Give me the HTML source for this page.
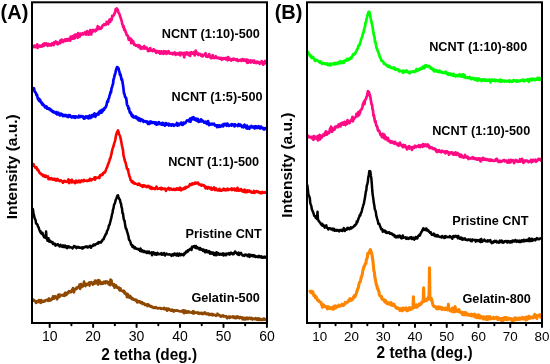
<!DOCTYPE html>
<html><head><meta charset="utf-8"><style>
html,body{margin:0;padding:0;background:#fff;}
body{width:550px;height:364px;overflow:hidden;position:relative;font-family:"Liberation Sans",sans-serif;}
svg{position:absolute;left:0;top:0;will-change:transform;}
svg text{font-family:"Liberation Sans",sans-serif;fill:#000;}
.b{font-weight:bold;}
</style></head><body>
<svg width="550" height="364" viewBox="0 0 550 364">
<polyline fill="none" stroke="#ff0a84" stroke-width="2.7" stroke-linejoin="round" points="32.70,45.34 33.20,47.01 33.70,47.14 34.20,45.56 34.70,45.96 35.20,45.83 35.70,46.99 36.20,46.32 36.70,47.13 37.20,44.39 37.70,47.88 38.20,46.09 38.70,46.83 39.20,45.90 39.70,45.58 40.20,46.39 40.70,46.70 41.20,45.56 41.70,45.56 42.20,46.38 42.70,44.68 43.20,43.94 43.70,45.89 44.20,44.70 44.70,43.32 45.20,44.42 45.70,44.72 46.20,43.88 46.70,43.49 47.20,45.04 47.70,45.88 48.20,44.60 48.70,43.98 49.20,45.10 49.70,45.38 50.20,44.21 50.70,45.02 51.20,45.47 51.70,44.03 52.20,43.28 52.70,44.44 53.20,44.22 53.70,45.04 54.20,42.34 54.70,42.90 55.20,42.58 55.70,41.48 56.20,43.38 56.70,43.69 57.20,42.17 57.70,44.37 58.20,43.61 58.70,43.24 59.20,42.83 59.70,43.29 60.20,40.58 60.70,42.57 61.20,42.39 61.70,39.56 62.20,41.76 62.70,40.92 63.20,41.92 63.70,40.37 64.20,40.68 64.70,40.92 65.20,39.36 65.70,40.88 66.20,39.90 66.70,40.41 67.20,39.07 67.70,40.74 68.20,40.01 68.70,38.92 69.20,39.66 69.70,40.19 70.20,40.60 70.70,36.53 71.20,39.16 71.70,38.47 72.20,37.62 72.70,36.37 73.20,38.77 73.70,35.67 74.20,37.57 74.70,38.21 75.20,34.66 75.70,35.93 76.20,34.55 76.70,36.12 77.20,37.37 77.70,37.75 78.20,33.19 78.70,34.39 79.20,35.70 79.70,36.56 80.20,35.10 80.70,33.65 81.20,34.74 81.70,34.28 82.20,33.97 82.70,33.27 83.20,34.46 83.70,34.27 84.20,33.70 84.70,33.43 85.20,32.06 85.70,32.82 86.20,34.58 86.70,32.77 87.20,31.14 87.70,34.13 88.20,33.01 88.70,34.66 89.20,32.15 89.70,31.40 90.20,30.13 90.70,33.18 91.20,34.48 91.70,30.44 92.20,30.49 92.70,31.76 93.20,29.95 93.70,30.41 94.20,30.11 94.70,30.51 95.20,31.30 95.70,29.81 96.20,30.57 96.70,28.76 97.20,29.34 97.70,26.23 98.20,26.75 98.70,29.07 99.20,27.22 99.70,28.32 100.20,28.04 100.70,28.70 101.20,27.88 101.70,27.88 102.20,26.35 102.70,25.43 103.20,25.15 103.70,25.17 104.20,24.17 104.70,24.56 105.20,24.82 105.70,24.94 106.20,23.98 106.70,21.85 107.20,23.62 107.70,23.55 108.20,23.99 108.70,22.65 109.20,20.39 109.70,19.44 110.20,21.82 110.70,19.68 111.20,20.24 111.70,19.91 112.20,15.85 112.70,16.53 113.20,15.88 113.70,15.22 114.20,14.39 114.70,13.14 115.20,12.19 115.70,9.06 116.20,9.31 116.70,8.37 117.20,9.72 117.70,9.66 118.20,11.73 118.70,12.86 119.20,13.37 119.70,14.92 120.20,16.46 120.70,17.66 121.20,19.67 121.70,20.99 122.20,23.72 122.70,24.93 123.20,27.07 123.70,26.18 124.20,29.93 124.70,29.17 125.20,30.36 125.70,32.18 126.20,33.01 126.70,35.21 127.20,35.31 127.70,35.67 128.20,36.70 128.70,39.87 129.20,39.04 129.70,38.22 130.20,40.11 130.70,38.83 131.20,43.11 131.70,39.83 132.20,42.53 132.70,43.02 133.20,41.23 133.70,43.55 134.20,44.68 134.70,44.46 135.20,44.57 135.70,45.63 136.20,45.09 136.70,45.57 137.20,45.36 137.70,46.43 138.20,45.05 138.70,47.11 139.20,46.00 139.70,45.63 140.20,47.35 140.70,48.92 141.20,48.37 141.70,47.05 142.20,48.47 142.70,47.47 143.20,47.97 143.70,48.35 144.20,46.09 144.70,48.75 145.20,47.68 145.70,48.15 146.20,47.52 146.70,47.62 147.20,48.32 147.70,50.20 148.20,51.15 148.70,49.62 149.20,50.84 149.70,49.63 150.20,48.14 150.70,50.27 151.20,50.67 151.70,49.92 152.20,50.73 152.70,51.09 153.20,49.80 153.70,49.30 154.20,50.59 154.70,50.68 155.20,50.62 155.70,51.98 156.20,52.77 156.70,50.80 157.20,51.94 157.70,52.25 158.20,52.11 158.70,52.51 159.20,51.23 159.70,52.39 160.20,53.68 160.70,52.61 161.20,51.36 161.70,52.59 162.20,53.29 162.70,52.53 163.20,51.73 163.70,53.77 164.20,51.23 164.70,52.94 165.20,52.53 165.70,51.50 166.20,53.81 166.70,53.07 167.20,51.73 167.70,53.42 168.20,52.52 168.70,51.22 169.20,52.38 169.70,53.30 170.20,53.68 170.70,53.28 171.20,53.21 171.70,53.63 172.20,53.03 172.70,54.34 173.20,53.43 173.70,53.60 174.20,53.87 174.70,52.45 175.20,52.83 175.70,54.95 176.20,53.94 176.70,53.46 177.20,54.12 177.70,53.45 178.20,54.21 178.70,53.42 179.20,54.32 179.70,52.67 180.20,55.30 180.70,53.64 181.20,52.67 181.70,53.90 182.20,53.76 182.70,54.24 183.20,53.07 183.70,54.46 184.20,57.37 184.70,52.95 185.20,54.41 185.70,53.82 186.20,54.24 186.70,52.36 187.20,52.87 187.70,54.23 188.20,53.68 188.70,55.11 189.20,52.87 189.70,53.55 190.20,55.92 190.70,52.41 191.20,52.16 191.70,52.89 192.20,52.86 192.70,53.69 193.20,53.06 193.70,52.27 194.20,53.21 194.70,55.48 195.20,54.26 195.70,50.56 196.20,53.01 196.70,52.36 197.20,53.76 197.70,53.06 198.20,55.03 198.70,54.15 199.20,54.24 199.70,53.84 200.20,53.95 200.70,54.63 201.20,55.80 201.70,55.37 202.20,54.74 202.70,56.29 203.20,55.43 203.70,55.28 204.20,54.73 204.70,55.00 205.20,55.01 205.70,53.18 206.20,56.59 206.70,56.26 207.20,55.66 207.70,56.85 208.20,56.41 208.70,56.45 209.20,54.09 209.70,56.13 210.20,56.90 210.70,57.93 211.20,58.23 211.70,57.97 212.20,55.86 212.70,55.07 213.20,57.52 213.70,57.15 214.20,58.03 214.70,57.19 215.20,57.57 215.70,56.20 216.20,57.93 216.70,57.25 217.20,58.00 217.70,58.17 218.20,57.76 218.70,58.19 219.20,57.99 219.70,58.70 220.20,58.55 220.70,57.74 221.20,57.77 221.70,59.77 222.20,58.30 222.70,59.27 223.20,58.83 223.70,58.10 224.20,58.01 224.70,58.78 225.20,58.96 225.70,59.31 226.20,57.83 226.70,58.44 227.20,58.90 227.70,60.34 228.20,57.16 228.70,59.49 229.20,58.74 229.70,59.57 230.20,58.85 230.70,59.57 231.20,60.57 231.70,59.61 232.20,59.70 232.70,59.67 233.20,58.79 233.70,59.86 234.20,59.28 234.70,58.82 235.20,59.48 235.70,59.37 236.20,60.21 236.70,59.61 237.20,59.28 237.70,60.93 238.20,60.61 238.70,60.89 239.20,60.42 239.70,59.91 240.20,59.73 240.70,59.91 241.20,60.95 241.70,60.35 242.20,59.14 242.70,60.36 243.20,59.33 243.70,60.67 244.20,59.65 244.70,59.68 245.20,60.86 245.70,60.78 246.20,59.58 246.70,61.59 247.20,62.79 247.70,59.94 248.20,62.65 248.70,60.71 249.20,60.94 249.70,61.25 250.20,60.31 250.70,62.57 251.20,61.99 251.70,61.05 252.20,61.49 252.70,60.55 253.20,61.54 253.70,62.62 254.20,60.55 254.70,61.61 255.20,62.13 255.70,62.89 256.20,63.17 256.70,61.77 257.20,61.59 257.70,62.58 258.20,61.98 258.70,62.07 259.20,63.24 259.70,63.79 260.20,62.71 260.70,62.41 261.20,63.08 261.70,61.18 262.20,62.73 262.70,61.95 263.20,64.75 263.70,63.46 264.20,63.02 264.70,62.78 265.20,60.95 265.70,63.55 266.20,64.30"/>
<polyline fill="none" stroke="#0000ff" stroke-width="2.7" stroke-linejoin="round" points="32.50,87.12 33.00,88.78 33.50,89.43 34.00,88.33 34.50,91.10 35.00,92.28 35.50,92.28 36.00,93.12 36.50,95.10 37.00,94.61 37.50,97.25 38.00,99.17 38.50,98.21 39.00,100.77 39.50,100.33 40.00,99.64 40.50,101.83 41.00,101.72 41.50,103.33 42.00,102.69 42.50,104.99 43.00,104.06 43.50,105.40 44.00,105.09 44.50,105.73 45.00,107.35 45.50,106.95 46.00,106.83 46.50,106.50 47.00,108.77 47.50,108.76 48.00,108.23 48.50,109.00 49.00,108.28 49.50,108.59 50.00,109.03 50.50,110.26 51.00,110.49 51.50,109.93 52.00,111.39 52.50,111.70 53.00,111.48 53.50,112.44 54.00,111.64 54.50,112.03 55.00,112.75 55.50,112.59 56.00,113.49 56.50,112.08 57.00,114.44 57.50,112.87 58.00,113.56 58.50,112.79 59.00,114.56 59.50,115.28 60.00,115.29 60.50,115.27 61.00,113.52 61.50,114.29 62.00,114.69 62.50,114.44 63.00,116.20 63.50,115.55 64.00,115.49 64.50,116.00 65.00,114.94 65.50,115.06 66.00,115.17 66.50,116.35 67.00,116.29 67.50,116.55 68.00,117.01 68.50,115.11 69.00,115.80 69.50,116.41 70.00,115.25 70.50,115.94 71.00,117.21 71.50,117.32 72.00,117.33 72.50,116.53 73.00,116.36 73.50,117.43 74.00,116.30 74.50,116.91 75.00,117.73 75.50,116.42 76.00,116.26 76.50,116.78 77.00,117.30 77.50,117.25 78.00,117.02 78.50,117.38 79.00,115.69 79.50,116.31 80.00,117.16 80.50,116.32 81.00,116.03 81.50,116.17 82.00,116.44 82.50,117.07 83.00,116.42 83.50,117.45 84.00,118.64 84.50,117.18 85.00,118.32 85.50,117.53 86.00,116.40 86.50,117.09 87.00,116.51 87.50,117.91 88.00,116.38 88.50,118.34 89.00,117.69 89.50,115.53 90.00,117.67 90.50,118.15 91.00,116.14 91.50,117.40 92.00,115.02 92.50,116.50 93.00,114.81 93.50,116.34 94.00,114.32 94.50,113.42 95.00,115.59 95.50,116.84 96.00,114.26 96.50,115.12 97.00,114.25 97.50,113.60 98.00,114.05 98.50,114.56 99.00,111.94 99.50,113.04 100.00,112.52 100.50,110.74 101.00,112.79 101.50,112.65 102.00,109.89 102.50,111.58 103.00,109.75 103.50,109.04 104.00,109.78 104.50,108.08 105.00,107.42 105.50,107.56 106.00,106.51 106.50,105.24 107.00,102.32 107.50,100.98 108.00,101.84 108.50,98.82 109.00,98.23 109.50,95.63 110.00,94.61 110.50,91.93 111.00,92.44 111.50,88.51 112.00,87.34 112.50,85.27 113.00,84.10 113.50,79.46 114.00,78.12 114.50,75.79 115.00,74.29 115.50,72.36 116.00,69.99 116.50,68.89 117.00,67.10 117.50,67.40 118.00,67.61 118.50,68.45 119.00,70.43 119.50,72.09 120.00,75.05 120.50,74.42 121.00,76.81 121.50,79.70 122.00,79.25 122.50,82.09 123.00,85.19 123.50,88.83 124.00,93.45 124.50,94.05 125.00,96.77 125.50,97.62 126.00,97.85 126.50,100.08 127.00,104.74 127.50,105.75 128.00,105.96 128.50,109.14 129.00,108.16 129.50,111.41 130.00,112.80 130.50,112.20 131.00,113.04 131.50,115.56 132.00,114.72 132.50,116.74 133.00,115.47 133.50,117.40 134.00,117.12 134.50,116.96 135.00,116.82 135.50,117.94 136.00,116.43 136.50,117.91 137.00,118.00 137.50,119.05 138.00,117.70 138.50,120.27 139.00,118.85 139.50,118.38 140.00,120.59 140.50,120.99 141.00,119.69 141.50,119.30 142.00,120.20 142.50,119.80 143.00,120.26 143.50,121.91 144.00,121.13 144.50,121.08 145.00,121.38 145.50,121.20 146.00,122.05 146.50,122.22 147.00,121.35 147.50,121.86 148.00,123.83 148.50,122.35 149.00,121.98 149.50,123.87 150.00,122.34 150.50,121.54 151.00,123.04 151.50,121.85 152.00,122.24 152.50,122.96 153.00,122.65 153.50,122.20 154.00,122.42 154.50,122.43 155.00,123.89 155.50,122.43 156.00,122.59 156.50,124.73 157.00,122.70 157.50,124.38 158.00,124.29 158.50,123.15 159.00,122.18 159.50,123.71 160.00,123.93 160.50,124.21 161.00,123.55 161.50,124.50 162.00,124.71 162.50,122.83 163.00,124.91 163.50,124.01 164.00,123.53 164.50,123.85 165.00,125.72 165.50,125.13 166.00,123.02 166.50,124.62 167.00,124.52 167.50,124.56 168.00,124.34 168.50,123.64 169.00,125.55 169.50,124.15 170.00,124.66 170.50,124.51 171.00,124.45 171.50,125.65 172.00,125.39 172.50,124.56 173.00,124.34 173.50,124.71 174.00,125.81 174.50,125.07 175.00,125.07 175.50,124.52 176.00,124.47 176.50,124.74 177.00,122.99 177.50,125.65 178.00,123.64 178.50,123.75 179.00,125.22 179.50,124.28 180.00,124.10 180.50,123.56 181.00,122.74 181.50,124.09 182.00,124.84 182.50,123.10 183.00,124.80 183.50,122.64 184.00,122.75 184.50,123.50 185.00,122.84 185.50,123.14 186.00,121.76 186.50,121.32 187.00,120.45 187.50,120.78 188.00,120.66 188.50,120.14 189.00,121.26 189.50,120.16 190.00,118.68 190.50,121.79 191.00,118.69 191.50,117.95 192.00,119.51 192.50,119.16 193.00,117.30 193.50,117.19 194.00,117.79 194.50,119.76 195.00,118.89 195.50,118.74 196.00,119.54 196.50,120.68 197.00,118.74 197.50,119.67 198.00,118.99 198.50,121.97 199.00,121.82 199.50,121.28 200.00,120.58 200.50,121.38 201.00,119.35 201.50,121.42 202.00,120.30 202.50,120.47 203.00,121.12 203.50,121.56 204.00,122.45 204.50,122.70 205.00,122.50 205.50,121.68 206.00,123.13 206.50,122.66 207.00,123.86 207.50,122.34 208.00,121.02 208.50,122.99 209.00,125.22 209.50,123.99 210.00,123.56 210.50,124.52 211.00,124.31 211.50,124.37 212.00,123.69 212.50,124.27 213.00,124.49 213.50,123.93 214.00,123.66 214.50,124.78 215.00,125.55 215.50,125.39 216.00,125.36 216.50,125.44 217.00,127.17 217.50,125.36 218.00,126.04 218.50,126.82 219.00,125.35 219.50,125.56 220.00,126.23 220.50,126.78 221.00,125.71 221.50,125.77 222.00,125.57 222.50,124.54 223.00,126.38 223.50,125.24 224.00,124.01 224.50,125.19 225.00,123.84 225.50,124.32 226.00,125.05 226.50,124.22 227.00,125.74 227.50,123.66 228.00,125.02 228.50,125.24 229.00,125.94 229.50,125.50 230.00,124.94 230.50,124.80 231.00,124.68 231.50,125.63 232.00,124.19 232.50,125.13 233.00,124.63 233.50,124.90 234.00,124.51 234.50,126.46 235.00,124.27 235.50,125.06 236.00,125.16 236.50,125.51 237.00,125.47 237.50,125.54 238.00,126.08 238.50,124.18 239.00,125.47 239.50,124.55 240.00,125.80 240.50,124.75 241.00,125.01 241.50,125.82 242.00,127.07 242.50,126.50 243.00,126.35 243.50,127.31 244.00,125.50 244.50,124.65 245.00,126.04 245.50,126.21 246.00,127.47 246.50,128.25 247.00,125.52 247.50,128.61 248.00,127.93 248.50,127.39 249.00,127.06 249.50,128.75 250.00,126.92 250.50,126.52 251.00,127.05 251.50,125.89 252.00,127.40 252.50,126.98 253.00,127.37 253.50,127.45 254.00,126.36 254.50,128.32 255.00,126.52 255.50,128.12 256.00,126.20 256.50,127.85 257.00,126.98 257.50,127.75 258.00,127.27 258.50,126.12 259.00,127.05 259.50,128.07 260.00,128.58 260.50,126.98 261.00,126.53 261.50,127.60 262.00,128.20 262.50,127.93 263.00,127.86 263.50,129.26 264.00,129.43 264.50,129.32 265.00,128.05 265.50,128.93 266.00,128.79 266.50,127.87"/>
<polyline fill="none" stroke="#ff0000" stroke-width="2.6" stroke-linejoin="round" points="32.50,163.78 33.00,163.91 33.50,164.18 34.00,166.05 34.50,166.26 35.00,166.94 35.50,167.79 36.00,168.10 36.50,167.42 37.00,168.60 37.50,170.12 38.00,169.57 38.50,170.70 39.00,171.58 39.50,172.90 40.00,173.43 40.50,173.73 41.00,173.49 41.50,174.60 42.00,174.72 42.50,174.62 43.00,175.93 43.50,175.67 44.00,175.15 44.50,176.73 45.00,176.00 45.50,176.81 46.00,175.68 46.50,176.90 47.00,176.53 47.50,176.74 48.00,176.36 48.50,179.21 49.00,177.92 49.50,178.38 50.00,179.14 50.50,178.52 51.00,179.11 51.50,178.06 52.00,179.23 52.50,178.99 53.00,179.73 53.50,179.67 54.00,178.79 54.50,178.62 55.00,179.30 55.50,180.56 56.00,180.47 56.50,180.57 57.00,179.10 57.50,178.76 58.00,180.19 58.50,180.47 59.00,180.38 59.50,181.09 60.00,180.83 60.50,180.24 61.00,180.51 61.50,181.24 62.00,181.26 62.50,181.21 63.00,182.78 63.50,181.17 64.00,181.46 64.50,180.77 65.00,181.22 65.50,181.83 66.00,181.89 66.50,181.45 67.00,181.83 67.50,181.62 68.00,180.37 68.50,179.47 69.00,183.10 69.50,182.14 70.00,181.56 70.50,180.47 71.00,180.77 71.50,182.48 72.00,179.79 72.50,181.39 73.00,182.16 73.50,181.69 74.00,182.09 74.50,181.51 75.00,183.14 75.50,180.90 76.00,180.66 76.50,181.69 77.00,182.41 77.50,181.41 78.00,182.09 78.50,181.03 79.00,180.56 79.50,182.21 80.00,182.28 80.50,182.22 81.00,180.89 81.50,180.38 82.00,180.32 82.50,180.88 83.00,181.36 83.50,181.26 84.00,179.95 84.50,180.97 85.00,180.81 85.50,180.82 86.00,180.72 86.50,180.58 87.00,181.07 87.50,180.73 88.00,180.75 88.50,180.08 89.00,180.69 89.50,180.23 90.00,178.79 90.50,180.32 91.00,179.66 91.50,180.26 92.00,179.37 92.50,179.24 93.00,179.27 93.50,178.96 94.00,178.50 94.50,177.45 95.00,179.62 95.50,177.21 96.00,177.81 96.50,178.24 97.00,177.84 97.50,177.72 98.00,177.60 98.50,177.65 99.00,176.74 99.50,178.14 100.00,175.28 100.50,175.76 101.00,175.02 101.50,174.52 102.00,174.66 102.50,175.00 103.00,173.13 103.50,172.63 104.00,172.99 104.50,172.21 105.00,172.40 105.50,171.00 106.00,169.63 106.50,168.32 107.00,167.59 107.50,166.13 108.00,164.05 108.50,163.57 109.00,161.99 109.50,160.33 110.00,158.45 110.50,158.03 111.00,155.60 111.50,153.93 112.00,151.06 112.50,148.93 113.00,147.60 113.50,146.20 114.00,144.09 114.50,142.39 115.00,141.14 115.50,138.45 116.00,135.45 116.50,134.04 117.00,132.12 117.50,131.38 118.00,130.33 118.50,131.87 119.00,133.90 119.50,135.02 120.00,135.99 120.50,138.02 121.00,140.54 121.50,142.97 122.00,145.72 122.50,147.83 123.00,150.20 123.50,155.30 124.00,157.16 124.50,159.43 125.00,161.33 125.50,162.33 126.00,164.57 126.50,166.62 127.00,168.72 127.50,169.65 128.00,169.14 128.50,172.53 129.00,174.37 129.50,176.34 130.00,177.32 130.50,179.86 131.00,180.48 131.50,181.55 132.00,182.10 132.50,181.06 133.00,182.90 133.50,183.08 134.00,182.66 134.50,183.65 135.00,183.78 135.50,183.42 136.00,183.84 136.50,183.93 137.00,184.42 137.50,184.16 138.00,184.95 138.50,183.52 139.00,184.73 139.50,183.97 140.00,184.89 140.50,185.67 141.00,185.48 141.50,185.51 142.00,185.75 142.50,186.84 143.00,185.21 143.50,186.61 144.00,185.16 144.50,185.94 145.00,186.46 145.50,185.90 146.00,186.70 146.50,187.14 147.00,185.99 147.50,186.82 148.00,186.72 148.50,185.80 149.00,187.03 149.50,186.72 150.00,188.20 150.50,186.85 151.00,188.60 151.50,187.23 152.00,188.92 152.50,188.09 153.00,188.11 153.50,188.41 154.00,188.54 154.50,188.94 155.00,189.22 155.50,187.94 156.00,187.42 156.50,186.56 157.00,188.12 157.50,188.93 158.00,188.75 158.50,188.65 159.00,188.42 159.50,188.30 160.00,188.59 160.50,189.09 161.00,187.75 161.50,189.42 162.00,188.05 162.50,188.94 163.00,188.68 163.50,188.91 164.00,188.51 164.50,188.49 165.00,189.13 165.50,188.62 166.00,190.95 166.50,189.11 167.00,188.96 167.50,189.04 168.00,188.70 168.50,187.80 169.00,189.23 169.50,189.60 170.00,188.42 170.50,189.40 171.00,188.61 171.50,189.37 172.00,189.63 172.50,189.71 173.00,189.68 173.50,188.93 174.00,189.96 174.50,189.08 175.00,189.59 175.50,189.80 176.00,189.12 176.50,188.46 177.00,189.67 177.50,188.52 178.00,188.64 178.50,188.48 179.00,189.71 179.50,189.03 180.00,187.63 180.50,189.53 181.00,190.34 181.50,190.11 182.00,188.51 182.50,188.86 183.00,189.06 183.50,189.19 184.00,188.50 184.50,187.61 185.00,188.64 185.50,188.36 186.00,186.89 186.50,187.25 187.00,187.36 187.50,186.83 188.00,186.80 188.50,186.61 189.00,186.08 189.50,185.30 190.00,184.10 190.50,184.95 191.00,185.06 191.50,185.07 192.00,183.50 192.50,183.37 193.00,184.28 193.50,184.23 194.00,183.48 194.50,183.69 195.00,182.71 195.50,183.57 196.00,182.66 196.50,183.20 197.00,183.38 197.50,183.37 198.00,182.55 198.50,183.62 199.00,184.57 199.50,184.48 200.00,184.41 200.50,185.08 201.00,185.39 201.50,185.64 202.00,184.72 202.50,185.44 203.00,185.43 203.50,185.33 204.00,185.20 204.50,186.38 205.00,186.13 205.50,188.31 206.00,187.03 206.50,187.10 207.00,187.12 207.50,188.73 208.00,187.02 208.50,187.65 209.00,187.39 209.50,187.95 210.00,188.15 210.50,189.04 211.00,187.54 211.50,188.58 212.00,189.76 212.50,188.50 213.00,188.83 213.50,188.49 214.00,187.47 214.50,189.21 215.00,190.15 215.50,189.17 216.00,188.36 216.50,189.80 217.00,189.74 217.50,190.39 218.00,190.39 218.50,189.67 219.00,190.16 219.50,188.77 220.00,190.71 220.50,190.14 221.00,190.75 221.50,190.76 222.00,189.90 222.50,189.99 223.00,189.51 223.50,188.72 224.00,189.94 224.50,190.08 225.00,189.23 225.50,190.35 226.00,189.90 226.50,190.08 227.00,189.24 227.50,188.56 228.00,190.19 228.50,190.07 229.00,189.59 229.50,189.37 230.00,189.46 230.50,189.54 231.00,189.28 231.50,188.30 232.00,190.11 232.50,188.62 233.00,189.37 233.50,189.39 234.00,189.76 234.50,188.56 235.00,190.41 235.50,190.08 236.00,190.19 236.50,190.55 237.00,189.25 237.50,187.78 238.00,190.08 238.50,190.77 239.00,190.72 239.50,189.67 240.00,190.01 240.50,190.33 241.00,189.05 241.50,189.88 242.00,189.98 242.50,191.51 243.00,190.15 243.50,191.68 244.00,190.74 244.50,189.71 245.00,192.30 245.50,190.28 246.00,191.36 246.50,192.11 247.00,190.70 247.50,190.30 248.00,191.82 248.50,191.23 249.00,190.45 249.50,190.60 250.00,191.11 250.50,192.06 251.00,191.33 251.50,192.03 252.00,192.76 252.50,192.59 253.00,192.78 253.50,192.71 254.00,190.92 254.50,192.81 255.00,192.27 255.50,192.01 256.00,191.42 256.50,191.13 257.00,191.47 257.50,192.20 258.00,191.48 258.50,191.75 259.00,191.91 259.50,192.78 260.00,192.19 260.50,192.33 261.00,193.32 261.50,192.29 262.00,192.93 262.50,191.89 263.00,192.83 263.50,192.73 264.00,192.81 264.50,192.43 265.00,192.10 265.50,192.62 266.00,192.55 266.50,193.57"/>
<polyline fill="none" stroke="#000000" stroke-width="2.5" stroke-linejoin="round" points="32.50,208.14 33.00,209.62 33.50,213.63 34.00,215.23 34.50,217.87 35.00,218.98 35.50,219.90 36.00,223.10 36.50,224.03 37.00,224.08 37.50,224.73 38.00,226.70 38.50,227.20 39.00,228.66 39.50,230.20 40.00,231.62 40.50,231.12 41.00,233.07 41.50,233.61 42.00,233.12 42.50,232.82 43.00,235.12 43.50,235.44 44.00,237.15 44.50,236.99 45.00,236.99 45.50,238.07 45.65,237.48 46.10,231.50 46.55,237.47 47.00,238.62 47.50,240.72 48.00,240.35 48.50,238.16 49.00,241.56 49.50,240.23 50.00,241.67 50.50,241.07 51.00,241.88 51.50,242.47 52.00,242.48 52.50,241.99 53.00,243.96 53.50,243.56 54.00,243.57 54.50,244.35 55.00,243.73 55.50,245.65 56.00,244.67 56.50,244.93 57.00,245.06 57.50,244.31 58.00,244.25 58.50,245.34 59.00,245.54 59.50,246.34 60.00,245.82 60.50,244.84 61.00,246.08 61.50,246.39 62.00,246.63 62.50,246.28 63.00,245.31 63.50,247.09 64.00,245.88 64.50,246.91 65.00,245.51 65.50,247.24 66.00,246.24 66.50,247.62 67.00,248.15 67.50,247.77 68.00,246.17 68.50,246.36 69.00,246.44 69.50,247.54 70.00,247.35 70.50,247.24 71.00,247.36 71.50,247.58 72.00,247.65 72.50,248.39 73.00,247.19 73.50,247.40 74.00,245.98 74.50,246.38 75.00,246.84 75.50,246.52 76.00,247.52 76.50,248.11 77.00,247.09 77.50,247.06 78.00,247.05 78.50,247.50 79.00,247.02 79.50,247.70 80.00,247.62 80.50,247.65 81.00,247.94 81.50,247.43 82.00,247.50 82.50,248.63 83.00,247.37 83.50,247.96 84.00,247.42 84.50,247.01 85.00,246.94 85.50,246.59 86.00,247.07 86.50,246.52 87.00,246.53 87.50,247.56 88.00,246.51 88.50,247.29 89.00,246.57 89.50,246.87 90.00,245.72 90.50,246.12 91.00,247.74 91.50,246.34 92.00,246.32 92.50,245.65 93.00,245.94 93.50,244.38 94.00,244.44 94.50,245.18 95.00,245.29 95.50,244.26 96.00,244.24 96.50,243.94 97.00,243.88 97.50,242.99 98.00,242.65 98.50,243.43 99.00,242.10 99.50,242.45 100.00,242.46 100.50,241.93 101.00,242.52 101.50,241.57 102.00,241.21 102.50,239.86 103.00,239.28 103.50,239.35 104.00,238.29 104.50,236.65 105.00,236.10 105.50,234.81 106.00,233.62 106.50,233.49 107.00,230.96 107.50,230.37 108.00,229.15 108.50,227.37 109.00,225.28 109.50,224.98 110.00,222.96 110.50,221.00 111.00,219.12 111.50,217.14 112.00,214.42 112.50,213.11 113.00,209.40 113.50,208.29 114.00,205.07 114.50,203.98 115.00,202.97 115.50,200.70 116.00,199.13 116.50,198.41 117.00,196.49 117.50,195.46 118.00,195.37 118.50,197.48 119.00,198.19 119.50,199.52 120.00,199.83 120.50,202.87 121.00,203.53 121.50,206.97 122.00,208.45 122.50,213.31 123.00,213.33 123.50,217.89 124.00,220.02 124.50,220.53 125.00,223.84 125.50,227.15 126.00,228.94 126.50,228.89 127.00,231.50 127.50,232.78 128.00,234.60 128.50,236.54 129.00,239.85 129.50,240.05 130.00,241.11 130.50,242.34 131.00,244.25 131.50,245.28 132.00,244.91 132.50,247.03 133.00,245.62 133.50,246.50 134.00,247.28 134.50,248.40 135.00,247.18 135.50,247.81 136.00,248.71 136.50,248.43 137.00,248.98 137.50,249.13 138.00,248.84 138.50,249.37 139.00,249.86 139.50,249.48 140.00,250.87 140.50,248.59 141.00,249.55 141.50,251.41 142.00,250.90 142.50,250.35 143.00,251.25 143.50,251.92 144.00,250.94 144.50,252.03 145.00,251.57 145.50,251.72 146.00,251.89 146.50,252.85 147.00,251.43 147.50,252.09 148.00,252.93 148.50,251.74 149.00,251.60 149.50,253.20 150.00,252.90 150.50,252.88 151.00,253.16 151.50,252.44 152.00,255.21 152.50,252.53 153.00,252.96 153.50,252.31 154.00,253.06 154.50,254.45 155.00,253.44 155.50,253.88 156.00,253.17 156.50,254.82 157.00,253.72 157.50,252.79 158.00,254.25 158.50,253.51 159.00,254.25 159.50,253.98 160.00,254.13 160.50,254.09 161.00,253.42 161.50,253.05 162.00,254.84 162.50,254.11 163.00,254.47 163.50,254.00 164.00,252.97 164.50,253.55 165.00,255.48 165.50,254.00 166.00,254.33 166.50,253.60 167.00,254.28 167.50,254.39 168.00,254.50 168.50,254.60 169.00,254.21 169.50,254.25 170.00,254.64 170.50,254.88 171.00,254.55 171.50,255.87 172.00,254.80 172.50,254.77 173.00,254.19 173.50,255.37 174.00,253.93 174.50,253.51 175.00,253.95 175.50,255.06 176.00,253.82 176.50,255.51 177.00,254.58 177.50,253.52 178.00,254.41 178.50,255.80 179.00,253.93 179.50,253.59 180.00,254.83 180.50,255.34 181.00,255.08 181.50,254.08 182.00,254.38 182.50,254.39 183.00,254.88 183.50,255.37 184.00,253.55 184.50,254.25 185.00,252.79 185.50,253.12 186.00,251.73 186.50,251.51 187.00,251.95 187.50,250.63 188.00,251.46 188.50,250.04 189.00,250.06 189.50,249.55 190.00,248.93 190.50,248.80 191.00,249.02 191.50,250.03 192.00,246.68 192.50,247.46 193.00,246.92 193.50,246.21 194.00,246.90 194.50,246.03 195.00,246.78 195.50,248.05 196.00,246.02 196.50,247.79 197.00,248.09 197.50,247.25 198.00,248.44 198.50,248.48 199.00,248.17 199.50,249.47 200.00,247.97 200.50,249.61 201.00,249.28 201.50,248.98 202.00,249.85 202.50,249.95 203.00,250.95 203.50,249.50 204.00,250.57 204.50,250.54 205.00,252.12 205.50,250.40 206.00,252.10 206.50,250.31 207.00,251.98 207.50,251.84 208.00,252.38 208.50,251.80 209.00,251.08 209.50,251.50 210.00,253.63 210.50,252.98 211.00,252.34 211.50,253.67 212.00,252.62 212.50,252.72 213.00,252.49 213.50,254.25 214.00,254.89 214.50,252.93 215.00,253.88 215.50,254.44 216.00,255.30 216.50,252.21 217.00,254.04 217.50,254.44 218.00,253.00 218.50,254.37 219.00,254.28 219.50,254.69 220.00,253.82 220.50,254.55 221.00,253.87 221.50,254.74 222.00,254.44 222.50,254.07 223.00,253.34 223.50,255.46 224.00,255.06 224.50,254.87 225.00,253.75 225.50,253.92 226.00,255.29 226.50,254.59 227.00,253.43 227.50,254.01 228.00,254.03 228.50,253.75 229.00,253.18 229.50,254.66 230.00,254.13 230.50,253.52 231.00,252.50 231.50,253.14 232.00,253.50 232.50,254.08 233.00,253.19 233.50,254.22 234.00,253.54 234.50,252.92 235.00,251.49 235.50,252.62 236.00,252.40 236.50,253.34 237.00,253.68 237.50,254.42 238.00,253.44 238.50,252.63 239.00,255.09 239.50,253.67 240.00,253.33 240.50,253.44 241.00,252.84 241.50,254.42 242.00,254.44 242.50,255.50 243.00,255.37 243.50,255.40 244.00,255.83 244.50,254.87 245.00,254.86 245.50,255.24 246.00,254.49 246.50,255.36 247.00,255.31 247.50,256.08 248.00,255.68 248.50,254.42 249.00,255.83 249.50,256.85 250.00,254.62 250.50,255.40 251.00,255.98 251.50,255.07 252.00,255.64 252.50,256.09 253.00,255.16 253.50,256.32 254.00,256.43 254.50,255.29 255.00,256.24 255.50,257.03 256.00,256.20 256.50,256.68 257.00,256.87 257.50,256.31 258.00,257.20 258.50,256.82 259.00,255.89 259.50,256.98 260.00,257.24 260.50,257.23 261.00,256.24 261.50,257.04 262.00,257.70 262.50,256.93 263.00,257.62 263.50,257.72 264.00,256.80 264.50,257.30 265.00,256.65 265.50,257.61 266.00,256.81 266.50,256.50"/>
<polyline fill="none" stroke="#8f4800" stroke-width="2.6" stroke-linejoin="round" points="32.50,300.46 33.00,300.69 33.50,299.67 34.00,300.20 34.50,301.07 35.00,301.26 35.50,301.05 36.00,302.90 36.50,301.87 37.00,301.06 37.50,301.67 38.00,302.14 38.50,301.48 39.00,300.02 39.50,301.33 40.00,301.32 40.50,302.79 41.00,300.00 41.50,302.37 42.00,301.12 42.50,301.82 43.00,300.86 43.50,301.09 44.00,301.65 44.50,300.77 45.00,301.35 45.50,300.39 46.00,300.02 46.50,300.04 47.00,299.72 47.50,299.89 48.00,300.88 48.50,298.86 49.00,298.36 49.50,299.48 50.00,300.65 50.50,300.04 51.00,300.12 51.50,299.93 52.00,298.24 52.50,298.76 53.00,296.39 53.50,297.86 54.00,298.67 54.50,296.75 55.00,296.15 55.50,296.59 56.00,297.65 56.50,298.26 57.00,299.28 57.50,298.13 58.00,295.45 58.50,294.56 59.00,296.49 59.50,297.09 60.00,294.56 60.50,295.32 61.00,295.18 61.50,295.41 62.00,295.01 62.50,295.43 63.00,295.72 63.50,294.59 64.00,294.99 64.50,295.93 65.00,292.85 65.50,292.57 66.00,293.81 66.50,294.87 67.00,292.98 67.50,293.65 68.00,292.01 68.50,292.99 69.00,291.19 69.50,292.26 70.00,291.72 70.50,291.47 71.00,292.25 71.50,291.68 72.00,289.67 72.50,291.00 73.00,287.96 73.50,290.62 74.00,292.31 74.50,289.64 75.00,289.36 75.50,288.61 76.00,289.21 76.50,287.50 77.00,288.53 77.50,287.20 78.00,286.78 78.50,287.19 79.00,286.77 79.50,284.59 80.00,288.93 80.50,286.46 81.00,284.09 81.50,287.27 82.00,285.79 82.50,285.93 83.00,286.40 83.50,284.30 84.00,281.63 84.50,284.98 85.00,285.26 85.50,286.05 86.00,283.70 86.50,284.15 87.00,284.83 87.50,283.78 88.00,283.71 88.50,284.21 89.00,282.49 89.50,285.67 90.00,282.32 90.50,283.42 91.00,282.82 91.50,282.21 92.00,283.70 92.50,284.22 93.00,284.70 93.50,283.48 94.00,282.05 94.50,283.72 95.00,280.65 95.50,282.59 96.00,283.19 96.50,283.23 97.00,280.94 97.50,280.46 98.00,284.61 98.50,281.72 99.00,280.21 99.50,280.73 100.00,282.38 100.50,283.91 101.00,282.34 101.50,283.93 102.00,282.63 102.50,282.96 103.00,283.65 103.50,281.86 104.00,282.77 104.50,281.88 105.00,281.58 105.50,283.31 106.00,281.40 106.50,282.62 107.00,281.52 107.50,282.48 108.00,281.96 108.50,284.13 109.00,282.87 109.50,283.00 110.00,285.22 110.50,279.56 111.00,282.12 111.50,280.34 112.00,284.11 112.50,284.97 113.00,285.52 113.50,285.34 114.00,284.22 114.50,287.72 115.00,286.26 115.50,285.91 116.00,285.22 116.50,287.38 117.00,286.66 117.50,287.07 118.00,288.17 118.50,288.53 119.00,287.72 119.50,290.38 120.00,288.25 120.50,288.51 121.00,290.41 121.50,290.58 122.00,290.90 122.50,290.78 123.00,291.62 123.50,291.39 124.00,290.70 124.50,293.44 125.00,292.13 125.50,293.29 126.00,294.60 126.50,294.34 127.00,297.24 127.50,293.87 128.00,294.86 128.50,295.98 129.00,297.45 129.50,296.41 130.00,295.76 130.50,298.27 131.00,296.90 131.50,297.83 132.00,299.03 132.50,298.12 133.00,298.61 133.50,299.64 134.00,299.41 134.50,300.07 135.00,299.43 135.50,300.32 136.00,299.87 136.50,299.78 137.00,302.37 137.50,301.67 138.00,302.20 138.50,301.11 139.00,301.96 139.50,302.03 140.00,301.42 140.50,302.92 141.00,302.27 141.50,302.80 142.00,302.14 142.50,303.94 143.00,303.98 143.50,303.94 144.00,303.32 144.50,303.74 145.00,305.00 145.50,304.27 146.00,304.78 146.50,304.89 147.00,304.34 147.50,306.06 148.00,304.25 148.50,305.73 149.00,305.78 149.50,305.16 150.00,306.43 150.50,306.69 151.00,306.56 151.50,306.18 152.00,306.99 152.50,307.45 153.00,307.04 153.50,307.95 154.00,307.55 154.50,307.58 155.00,308.01 155.50,306.96 156.00,307.14 156.50,307.80 157.00,307.91 157.50,308.55 158.00,308.46 158.50,308.03 159.00,308.15 159.50,307.98 160.00,308.04 160.50,308.09 161.00,308.93 161.50,308.27 162.00,308.42 162.50,308.80 163.00,308.52 163.50,308.76 164.00,307.78 164.50,309.27 165.00,308.98 165.50,309.33 166.00,309.51 166.50,308.36 167.00,310.77 167.50,309.60 168.00,309.67 168.50,308.65 169.00,310.03 169.50,309.97 170.00,309.61 170.50,309.99 171.00,310.62 171.50,309.79 172.00,309.54 172.50,310.83 173.00,310.31 173.50,310.13 174.00,311.56 174.50,310.45 175.00,310.34 175.50,310.64 176.00,310.34 176.50,310.75 177.00,310.78 177.50,310.39 178.00,310.67 178.50,311.04 179.00,311.13 179.50,311.30 180.00,311.46 180.50,311.22 181.00,311.42 181.50,310.97 182.00,311.09 182.50,311.86 183.00,310.26 183.50,311.61 184.00,313.20 184.50,310.51 185.00,312.41 185.50,310.68 186.00,311.91 186.50,312.67 187.00,312.66 187.50,311.40 188.00,311.25 188.50,311.24 189.00,312.49 189.50,311.94 190.00,312.23 190.50,312.43 191.00,312.58 191.50,312.72 192.00,312.56 192.50,311.67 193.00,313.41 193.50,311.16 194.00,313.40 194.50,312.43 195.00,312.69 195.50,312.55 196.00,312.67 196.50,312.90 197.00,312.79 197.50,312.37 198.00,313.48 198.50,312.72 199.00,313.82 199.50,313.04 200.00,312.78 200.50,313.45 201.00,313.74 201.50,312.79 202.00,313.19 202.50,314.18 203.00,312.90 203.50,313.03 204.00,313.64 204.50,312.94 205.00,312.30 205.50,312.80 206.00,313.98 206.50,314.19 207.00,314.22 207.50,314.18 208.00,313.36 208.50,314.48 209.00,314.82 209.50,313.88 210.00,314.85 210.50,314.21 211.00,314.59 211.50,314.76 212.00,313.81 212.50,315.50 213.00,314.29 213.50,314.76 214.00,314.60 214.50,315.18 215.00,315.21 215.50,315.04 216.00,315.86 216.50,315.28 217.00,314.96 217.50,313.65 218.00,315.13 218.50,315.19 219.00,314.93 219.50,315.00 220.00,315.88 220.50,316.21 221.00,316.76 221.50,316.44 222.00,315.51 222.50,316.13 223.00,315.32 223.50,316.56 224.00,316.44 224.50,315.98 225.00,316.32 225.50,316.30 226.00,316.13 226.50,317.25 227.00,318.28 227.50,317.06 228.00,317.22 228.50,316.77 229.00,316.52 229.50,317.95 230.00,316.58 230.50,317.03 231.00,316.79 231.50,317.22 232.00,316.91 232.50,317.32 233.00,316.35 233.50,317.04 234.00,317.90 234.50,316.64 235.00,316.90 235.50,318.08 236.00,317.60 236.50,318.03 237.00,316.26 237.50,317.63 238.00,316.90 238.50,316.89 239.00,317.93 239.50,318.41 240.00,316.99 240.50,317.26 241.00,317.60 241.50,317.90 242.00,317.28 242.50,319.31 243.00,318.43 243.50,317.95 244.00,317.90 244.50,319.50 245.00,319.48 245.50,318.01 246.00,318.49 246.50,319.01 247.00,317.69 247.50,318.03 248.00,319.12 248.50,318.01 249.00,318.18 249.50,317.69 250.00,318.04 250.50,318.87 251.00,318.07 251.50,317.84 252.00,318.26 252.50,319.64 253.00,318.83 253.50,318.48 254.00,318.95 254.50,319.17 255.00,319.06 255.50,318.05 256.00,319.27 256.50,319.04 257.00,319.66 257.50,318.47 258.00,319.82 258.50,318.98 259.00,318.32 259.50,320.02 260.00,319.00 260.50,319.51 261.00,319.22 261.50,319.93 262.00,319.95 262.50,319.97 263.00,319.77 263.50,318.50 264.00,318.50 264.50,319.59 265.00,319.02 265.50,319.89 266.00,319.81 266.50,319.02"/>
<polyline fill="none" stroke="#00ff00" stroke-width="2.7" stroke-linejoin="round" points="307.50,51.37 308.00,52.01 308.50,52.84 309.00,53.90 309.50,55.06 310.00,56.05 310.50,55.21 311.00,56.00 311.50,57.80 312.00,57.89 312.50,57.96 313.00,56.82 313.50,58.02 314.00,59.08 314.50,58.96 315.00,60.83 315.50,59.97 316.00,60.37 316.50,59.80 317.00,60.10 317.50,60.58 318.00,60.86 318.50,61.34 319.00,61.94 319.50,62.08 320.00,62.75 320.50,61.52 321.00,62.65 321.50,62.84 322.00,63.83 322.50,62.91 323.00,63.41 323.50,62.89 324.00,63.80 324.50,63.94 325.00,63.45 325.50,63.67 326.00,64.00 326.50,64.43 327.00,63.40 327.50,64.63 328.00,63.88 328.50,65.21 329.00,64.92 329.50,63.77 330.00,63.60 330.50,65.43 331.00,64.29 331.50,64.21 332.00,63.58 332.50,63.72 333.00,64.25 333.50,64.10 334.00,63.19 334.50,64.41 335.00,63.80 335.50,63.00 336.00,64.13 336.50,63.37 337.00,63.90 337.50,63.03 338.00,63.52 338.50,62.24 339.00,63.35 339.50,62.10 340.00,63.00 340.50,61.23 341.00,62.58 341.50,62.90 342.00,62.60 342.50,62.87 343.00,61.32 343.50,62.75 344.00,62.59 344.50,60.71 345.00,60.76 345.50,60.69 346.00,60.80 346.50,60.70 347.00,58.85 347.50,60.44 348.00,59.65 348.50,58.89 349.00,59.77 349.50,58.64 350.00,59.15 350.50,58.36 351.00,57.37 351.50,57.78 352.00,57.03 352.50,55.68 353.00,54.44 353.50,54.49 354.00,54.59 354.50,53.45 355.00,54.02 355.50,52.43 356.00,51.66 356.50,51.01 357.00,49.40 357.50,48.99 358.00,47.73 358.50,45.69 359.00,44.92 359.50,45.24 360.00,43.23 360.50,41.96 361.00,39.50 361.50,38.31 362.00,37.41 362.50,35.30 363.00,33.22 363.50,32.69 364.00,29.84 364.50,27.67 365.00,26.53 365.50,22.75 366.00,22.16 366.50,19.25 367.00,17.28 367.50,15.09 368.00,13.57 368.50,12.11 369.00,11.68 369.50,12.32 370.00,14.86 370.50,17.56 371.00,19.77 371.50,22.47 372.00,24.23 372.50,26.43 373.00,30.20 373.50,32.62 374.00,35.79 374.50,36.69 375.00,41.94 375.50,42.05 376.00,45.24 376.50,48.00 377.00,48.46 377.50,50.61 378.00,51.23 378.50,52.96 379.00,53.90 379.50,56.25 380.00,57.38 380.50,57.97 381.00,59.83 381.50,60.75 382.00,60.67 382.50,61.24 383.00,61.81 383.50,62.24 384.00,63.80 384.50,63.61 385.00,63.71 385.50,64.18 386.00,65.03 386.50,64.81 387.00,65.58 387.50,65.68 388.00,66.80 388.50,66.95 389.00,65.64 389.50,66.62 390.00,67.36 390.50,66.86 391.00,67.80 391.50,67.69 392.00,68.02 392.50,67.78 393.00,68.17 393.50,68.46 394.00,67.42 394.50,67.92 395.00,68.03 395.50,69.84 396.00,69.20 396.50,69.45 397.00,69.55 397.50,69.35 398.00,69.43 398.50,70.60 399.00,70.05 399.50,71.41 400.00,70.72 400.50,70.79 401.00,70.73 401.50,70.95 402.00,71.13 402.50,72.14 403.00,72.74 403.50,70.73 404.00,71.67 404.50,72.02 405.00,71.11 405.50,71.32 406.00,71.47 406.50,70.34 407.00,72.22 407.50,71.84 408.00,71.84 408.50,71.98 409.00,72.10 409.50,73.37 410.00,72.10 410.50,72.50 411.00,71.69 411.50,72.20 412.00,71.75 412.50,71.78 413.00,71.23 413.50,71.18 414.00,71.83 414.50,71.88 415.00,71.57 415.50,70.72 416.00,71.10 416.50,69.16 417.00,71.01 417.50,70.18 418.00,70.12 418.50,70.42 419.00,69.22 419.50,69.80 420.00,68.69 420.50,69.02 421.00,68.17 421.50,68.32 422.00,68.65 422.50,67.01 423.00,66.66 423.50,66.52 424.00,66.68 424.50,68.07 425.00,66.07 425.50,65.21 426.00,66.07 426.50,65.54 427.00,66.20 427.50,66.60 428.00,66.07 428.50,66.36 429.00,65.83 429.50,67.30 430.00,67.01 430.50,68.41 431.00,68.69 431.50,67.90 432.00,68.67 432.50,69.40 433.00,70.18 433.50,68.94 434.00,70.11 434.50,71.46 435.00,70.45 435.50,70.79 436.00,70.79 436.50,70.20 437.00,71.62 437.50,71.33 438.00,71.39 438.50,71.86 439.00,72.03 439.50,70.54 440.00,72.10 440.50,71.58 441.00,72.15 441.50,71.74 442.00,71.76 442.50,72.97 443.00,72.50 443.50,72.45 444.00,72.56 444.50,72.88 445.00,72.93 445.50,71.62 446.00,72.62 446.50,73.10 447.00,73.79 447.50,74.25 448.00,72.97 448.50,74.80 449.00,73.79 449.50,74.13 450.00,73.62 450.50,73.69 451.00,75.03 451.50,74.15 452.00,74.34 452.50,75.21 453.00,75.67 453.50,73.84 454.00,74.73 454.50,74.94 455.00,76.14 455.50,76.62 456.00,75.20 456.50,75.53 457.00,75.91 457.50,76.16 458.00,75.35 458.50,76.14 459.00,75.28 459.50,74.18 460.00,75.04 460.50,76.09 461.00,76.52 461.50,74.79 462.00,75.16 462.50,76.33 463.00,74.42 463.50,76.89 464.00,77.28 464.50,74.97 465.00,77.33 465.50,76.85 466.00,77.92 466.50,77.34 467.00,77.13 467.50,77.45 468.00,78.05 468.50,77.70 469.00,77.72 469.50,76.93 470.00,78.19 470.50,78.01 471.00,79.20 471.50,78.17 472.00,78.22 472.50,77.98 473.00,78.88 473.50,78.41 474.00,78.19 474.50,79.67 475.00,79.85 475.50,78.59 476.00,78.32 476.50,79.69 477.00,78.58 477.50,80.86 478.00,79.15 478.50,79.88 479.00,78.59 479.50,79.42 480.00,80.17 480.50,79.84 481.00,79.31 481.50,81.17 482.00,80.19 482.50,79.65 483.00,79.47 483.50,79.72 484.00,80.74 484.50,79.50 485.00,80.02 485.50,79.55 486.00,80.83 486.50,80.01 487.00,80.66 487.50,80.51 488.00,79.84 488.50,80.64 489.00,80.80 489.50,79.56 490.00,80.69 490.50,82.43 491.00,80.12 491.50,80.70 492.00,79.53 492.50,80.63 493.00,80.02 493.50,80.86 494.00,80.39 494.50,79.75 495.00,81.16 495.50,80.41 496.00,79.97 496.50,80.67 497.00,80.09 497.50,80.95 498.00,80.71 498.50,80.55 499.00,81.20 499.50,80.03 500.00,81.41 500.50,79.62 501.00,81.82 501.50,80.96 502.00,80.70 502.50,80.43 503.00,81.21 503.50,80.79 504.00,80.78 504.50,81.52 505.00,80.63 505.50,80.75 506.00,81.15 506.50,81.54 507.00,80.80 507.50,80.98 508.00,80.91 508.50,81.33 509.00,81.77 509.50,80.30 510.00,80.78 510.50,80.83 511.00,81.21 511.50,81.75 512.00,80.82 512.50,80.96 513.00,81.50 513.50,80.06 514.00,80.34 514.50,80.52 515.00,80.78 515.50,80.92 516.00,80.45 516.50,81.82 517.00,80.32 517.50,80.61 518.00,81.38 518.50,81.17 519.00,80.68 519.50,80.90 520.00,81.15 520.50,80.63 521.00,81.01 521.50,80.04 522.00,80.62 522.50,79.56 523.00,80.00 523.50,79.82 524.00,81.26 524.50,80.19 525.00,80.63 525.50,79.86 526.00,80.27 526.50,80.19 527.00,79.80 527.50,80.81 528.00,79.24 528.50,80.60 529.00,81.79 529.50,79.63 530.00,80.11 530.50,79.10 531.00,79.99 531.50,78.91 532.00,80.30 532.50,79.58 533.00,78.71 533.50,79.00 534.00,78.78 534.50,79.53 535.00,80.18 535.50,79.37 536.00,78.85 536.50,79.01 537.00,79.55 537.50,77.94 538.00,79.74 538.50,79.58 539.00,77.78 539.50,79.96 540.00,78.19 540.50,79.00 541.00,79.81 541.50,78.03"/>
<polyline fill="none" stroke="#ff0a84" stroke-width="2.7" stroke-linejoin="round" points="307.50,134.95 308.00,135.95 308.50,136.12 309.00,137.36 309.50,137.00 310.00,137.11 310.50,137.19 311.00,137.60 311.50,136.82 312.00,138.24 312.50,137.83 313.00,136.60 313.50,139.94 314.00,136.21 314.50,138.53 315.00,136.69 315.50,137.93 316.00,138.04 316.50,138.35 317.00,138.93 317.50,136.11 318.00,140.45 318.50,137.40 319.00,135.81 319.50,135.01 320.00,139.34 320.50,138.31 321.00,136.09 321.50,136.83 322.00,137.28 322.50,135.54 323.00,134.64 323.50,134.86 324.00,135.69 324.50,134.40 325.00,132.56 325.50,134.80 326.00,131.39 326.50,132.35 327.00,134.61 327.50,133.03 328.00,132.73 328.50,132.25 329.00,133.12 329.50,131.42 330.00,128.68 330.50,131.16 331.00,126.61 331.50,127.59 332.00,131.92 332.50,130.92 333.00,128.69 333.50,128.88 334.00,128.77 334.50,129.63 335.00,127.04 335.50,126.59 336.00,126.60 336.50,127.27 337.00,127.12 337.50,125.98 338.00,127.17 338.50,124.61 339.00,125.55 339.50,124.50 340.00,123.85 340.50,126.46 341.00,124.25 341.50,123.15 342.00,124.26 342.50,122.71 343.00,124.54 343.50,124.65 344.00,124.66 344.50,121.78 345.00,122.73 345.50,125.06 346.00,122.21 346.50,123.87 347.00,123.99 347.50,120.06 348.00,123.16 348.50,122.35 349.00,122.29 349.50,123.10 350.00,121.28 350.50,120.55 351.00,120.98 351.50,119.50 352.00,120.31 352.50,116.81 353.00,121.27 353.50,118.03 354.00,119.01 354.50,118.30 355.00,117.59 355.50,117.11 356.00,116.54 356.50,113.83 357.00,114.66 357.50,116.26 358.00,112.73 358.50,111.96 359.00,115.25 359.50,113.33 360.00,113.00 360.50,110.19 361.00,109.73 361.50,109.50 362.00,108.34 362.50,106.57 363.00,103.80 363.50,103.63 364.00,101.46 364.50,104.17 365.00,100.42 365.50,99.48 366.00,98.78 366.50,96.90 367.00,95.99 367.50,93.14 368.00,91.00 368.50,94.80 369.00,92.17 369.50,93.85 370.00,95.40 370.50,98.00 371.00,101.06 371.50,104.20 372.00,104.45 372.50,109.00 373.00,110.71 373.50,115.92 374.00,115.32 374.50,119.08 375.00,121.79 375.50,120.95 376.00,124.47 376.50,126.00 377.00,126.09 377.50,127.96 378.00,130.53 378.50,130.55 379.00,130.60 379.50,131.68 380.00,133.27 380.50,134.99 381.00,135.03 381.50,135.53 382.00,137.11 382.50,133.85 383.00,134.50 383.50,133.98 384.00,138.14 384.50,134.86 385.00,137.90 385.50,139.20 386.00,137.03 386.50,138.21 387.00,138.97 387.50,140.40 388.00,138.12 388.50,140.48 389.00,141.16 389.50,140.79 390.00,141.04 390.50,142.49 391.00,141.56 391.50,141.50 392.00,141.37 392.50,142.65 393.00,141.81 393.50,143.02 394.00,142.59 394.50,143.86 395.00,141.93 395.50,143.00 396.00,143.43 396.50,143.62 397.00,144.51 397.50,143.85 398.00,144.53 398.50,145.79 399.00,144.75 399.50,142.90 400.00,142.70 400.50,145.13 401.00,144.30 401.50,145.29 402.00,145.12 402.50,146.95 403.00,147.11 403.50,144.98 404.00,146.58 404.50,146.14 405.00,145.24 405.50,147.33 406.00,146.63 406.50,147.31 407.00,149.43 407.50,148.36 408.00,148.21 408.50,146.77 409.00,146.08 409.50,148.57 410.00,147.10 410.50,147.50 411.00,147.12 411.50,147.60 412.00,149.89 412.50,147.19 413.00,147.22 413.50,147.70 414.00,147.78 414.50,146.31 415.00,145.73 415.50,146.85 416.00,147.13 416.50,146.46 417.00,146.14 417.50,146.11 418.00,146.58 418.50,146.81 419.00,145.26 419.50,146.30 420.00,147.17 420.50,146.64 421.00,145.34 421.50,146.25 422.00,146.38 422.50,146.90 423.00,144.17 423.50,146.25 424.00,144.87 424.50,145.48 425.00,145.99 425.50,144.45 426.00,144.60 426.50,145.41 427.00,146.39 427.50,145.23 428.00,144.50 428.50,145.47 429.00,146.88 429.50,148.03 430.00,146.75 430.50,147.29 431.00,147.74 431.50,148.02 432.00,147.44 432.50,148.12 433.00,148.94 433.50,149.01 434.00,149.12 434.50,148.34 435.00,148.99 435.50,149.05 436.00,150.93 436.50,151.52 437.00,150.69 437.50,152.06 438.00,150.51 438.50,150.75 439.00,150.07 439.50,151.70 440.00,151.27 440.50,151.90 441.00,152.30 441.50,151.62 442.00,150.77 442.50,151.67 443.00,151.58 443.50,151.61 444.00,152.18 444.50,151.39 445.00,151.39 445.50,153.28 446.00,152.77 446.50,151.83 447.00,151.20 447.50,151.77 448.00,152.65 448.50,153.19 449.00,154.71 449.50,152.46 450.00,152.92 450.50,152.58 451.00,153.07 451.50,152.77 452.00,152.28 452.50,154.22 453.00,153.55 453.50,154.67 454.00,153.23 454.50,154.01 455.00,154.46 455.50,152.39 456.00,152.99 456.50,154.89 457.00,154.45 457.50,152.92 458.00,153.98 458.50,153.84 459.00,154.45 459.50,156.29 460.00,154.62 460.50,156.93 461.00,155.15 461.50,154.87 462.00,156.91 462.50,156.52 463.00,157.00 463.50,157.60 464.00,157.00 464.50,157.26 465.00,154.98 465.50,155.85 466.00,157.03 466.50,156.97 467.00,157.53 467.50,156.70 468.00,158.11 468.50,158.97 469.00,157.95 469.50,158.28 470.00,158.13 470.50,158.58 471.00,158.12 471.50,157.66 472.00,158.31 472.50,158.33 473.00,157.13 473.50,158.61 474.00,158.54 474.50,158.77 475.00,158.25 475.50,159.15 476.00,159.34 476.50,158.36 477.00,159.25 477.50,159.68 478.00,159.72 478.50,158.47 479.00,158.46 479.50,159.35 480.00,158.57 480.50,161.43 481.00,158.88 481.50,158.95 482.00,160.15 482.50,159.32 483.00,157.89 483.50,159.69 484.00,159.07 484.50,159.49 485.00,158.68 485.50,159.28 486.00,159.91 486.50,160.02 487.00,159.24 487.50,159.60 488.00,159.53 488.50,160.34 489.00,160.15 489.50,159.31 490.00,160.84 490.50,159.81 491.00,160.70 491.50,159.69 492.00,160.68 492.50,160.38 493.00,160.54 493.50,160.92 494.00,160.90 494.50,160.71 495.00,160.73 495.50,159.63 496.00,160.60 496.50,158.96 497.00,158.95 497.50,160.50 498.00,160.60 498.50,161.98 499.00,161.36 499.50,161.74 500.00,160.65 500.50,161.27 501.00,161.86 501.50,161.39 502.00,161.27 502.50,161.10 503.00,160.31 503.50,160.35 504.00,159.93 504.50,161.40 505.00,160.87 505.50,160.56 506.00,161.39 506.50,160.66 507.00,161.95 507.50,162.64 508.00,161.50 508.50,160.61 509.00,159.98 509.50,162.75 510.00,161.53 510.50,160.25 511.00,162.03 511.50,159.86 512.00,160.83 512.50,160.99 513.00,160.90 513.50,160.28 514.00,163.08 514.50,160.87 515.00,161.49 515.50,161.21 516.00,159.92 516.50,160.75 517.00,161.35 517.50,161.92 518.00,160.91 518.50,161.48 519.00,160.92 519.50,161.65 520.00,159.23 520.50,161.66 521.00,160.69 521.50,160.72 522.00,158.91 522.50,160.30 523.00,161.61 523.50,162.94 524.00,160.52 524.50,160.52 525.00,161.41 525.50,161.21 526.00,160.49 526.50,160.79 527.00,160.58 527.50,161.35 528.00,161.46 528.50,162.20 529.00,161.50 529.50,161.27 530.00,160.84 530.50,161.43 531.00,159.87 531.50,162.34 532.00,160.82 532.50,161.69 533.00,159.90 533.50,161.33 534.00,160.79 534.50,160.29 535.00,159.88 535.50,159.68 536.00,161.78 536.50,161.29 537.00,160.38 537.50,160.41 538.00,159.65 538.50,158.73 539.00,158.73 539.50,159.64 540.00,159.97 540.50,159.13 541.00,160.67 541.50,160.41"/>
<polyline fill="none" stroke="#000000" stroke-width="2.5" stroke-linejoin="round" points="307.30,184.61 307.80,189.17 308.30,193.49 308.80,195.60 309.30,196.62 309.80,198.21 310.30,203.37 310.80,204.63 311.30,205.87 311.80,209.04 312.30,210.35 312.80,211.41 313.30,212.67 313.80,214.35 314.30,215.96 314.80,216.05 315.30,216.74 315.80,217.91 316.30,215.93 316.80,218.28 317.05,219.02 317.50,211.80 317.95,218.85 318.30,219.98 318.80,221.13 319.30,221.68 319.80,222.35 320.30,222.86 320.80,223.88 321.30,223.75 321.80,225.27 322.30,223.84 322.80,225.57 323.30,226.11 323.80,225.25 324.30,226.14 324.80,227.63 325.30,226.86 325.80,226.57 326.30,225.32 326.80,227.84 327.30,227.87 327.80,228.40 328.30,229.57 328.80,228.29 329.30,228.52 329.80,228.08 330.30,228.63 330.80,228.77 331.30,229.43 331.80,229.39 332.30,228.57 332.80,228.86 333.30,230.25 333.80,228.70 334.30,229.98 334.80,230.67 335.30,230.07 335.80,229.88 336.30,230.74 336.80,230.12 337.30,229.96 337.80,229.91 338.30,230.93 338.80,230.69 339.30,231.35 339.80,230.09 340.30,230.15 340.80,230.09 341.30,230.60 341.80,229.90 342.30,231.00 342.80,230.53 343.30,229.53 343.80,228.06 344.30,228.76 344.80,230.94 345.30,229.80 345.80,229.84 346.30,229.33 346.80,229.78 347.30,228.02 347.80,227.81 348.30,227.91 348.80,228.93 349.30,229.21 349.80,228.87 350.30,228.27 350.80,227.27 351.30,228.55 351.80,227.62 352.30,227.63 352.80,227.39 353.30,226.89 353.80,226.42 354.30,226.13 354.80,225.03 355.30,225.33 355.80,224.16 356.30,224.09 356.80,221.21 357.30,222.35 357.80,220.48 358.30,219.37 358.80,217.82 359.30,216.65 359.80,214.97 360.30,215.37 360.80,213.25 361.30,212.50 361.80,211.09 362.30,208.56 362.80,207.01 363.30,205.05 363.80,203.96 364.30,201.09 364.80,198.40 365.30,195.59 365.80,191.77 366.30,190.29 366.80,185.46 367.30,184.32 367.80,181.75 368.30,177.20 368.80,174.98 369.30,171.23 369.80,171.09 370.30,171.41 370.80,175.43 371.30,178.07 371.80,183.88 372.30,190.99 372.80,195.35 373.30,198.68 373.80,202.57 374.30,205.43 374.80,209.25 375.30,210.21 375.80,211.80 376.30,215.90 376.80,217.47 377.30,219.58 377.80,220.62 378.30,223.73 378.80,223.93 379.30,223.82 379.80,225.49 380.30,226.66 380.80,227.97 381.30,229.30 381.80,228.81 382.30,229.37 382.80,231.76 383.30,230.64 383.80,230.54 384.30,231.22 384.80,230.57 385.30,232.04 385.80,232.53 386.30,231.63 386.80,232.92 387.30,232.22 387.80,232.84 388.30,232.33 388.80,232.51 389.30,232.24 389.80,233.66 390.30,233.52 390.80,233.76 391.30,233.36 391.80,233.53 392.30,234.11 392.80,235.07 393.30,235.14 393.80,234.64 394.30,235.51 394.80,236.72 395.30,235.75 395.80,237.27 396.30,236.33 396.80,237.13 397.30,235.99 397.80,237.33 398.30,235.82 398.80,236.95 399.30,236.67 399.80,235.61 400.30,236.16 400.80,238.01 401.30,237.65 401.80,238.31 402.30,237.63 402.80,235.54 403.30,237.83 403.80,237.33 404.30,237.45 404.80,237.55 405.30,237.39 405.80,237.31 406.30,238.90 406.80,238.39 407.30,237.67 407.80,237.88 408.30,238.91 408.80,238.54 409.30,238.45 409.80,237.48 410.30,238.06 410.80,237.59 411.30,237.05 411.80,239.02 412.30,238.14 412.80,238.05 413.30,237.62 413.80,238.76 414.30,239.61 414.80,238.46 415.30,238.60 415.80,236.96 416.30,237.82 416.80,237.71 417.30,238.41 417.80,237.00 418.30,235.81 418.80,235.81 419.30,234.90 419.80,235.58 420.30,234.26 420.80,233.15 421.30,232.12 421.80,231.75 422.30,230.15 422.80,229.39 423.30,228.30 423.80,230.07 424.30,229.29 424.80,229.19 425.30,228.73 425.80,230.03 426.30,228.53 426.80,230.51 427.30,229.56 427.80,230.27 428.30,230.15 428.80,231.51 429.30,231.70 429.80,232.66 430.30,232.38 430.80,232.20 431.30,233.91 431.80,234.73 432.30,234.63 432.80,234.33 433.30,234.88 433.80,233.62 434.30,234.77 434.80,236.00 435.30,235.68 435.80,234.93 436.30,236.28 436.80,235.74 437.30,236.48 437.80,235.12 438.30,235.86 438.80,236.57 439.30,236.66 439.80,236.94 440.30,236.66 440.80,236.63 441.30,237.20 441.80,237.57 442.30,235.99 442.80,236.91 443.30,237.05 443.80,237.35 444.30,237.98 444.80,236.36 445.30,237.68 445.80,236.11 446.30,236.81 446.80,236.98 447.30,237.17 447.80,236.94 448.30,237.01 448.80,237.14 449.30,237.19 449.80,236.10 450.30,236.39 450.80,236.99 451.30,237.53 451.80,237.71 452.30,238.82 452.80,236.74 453.30,235.97 453.80,236.55 454.30,236.86 454.80,236.51 455.30,235.77 455.80,236.57 456.30,236.78 456.80,236.01 457.30,236.33 457.80,238.19 458.30,235.95 458.80,237.75 459.30,237.57 459.80,238.83 460.30,238.40 460.80,237.48 461.30,239.06 461.80,237.90 462.30,239.78 462.80,239.65 463.30,238.54 463.80,239.23 464.30,238.91 464.80,238.24 465.30,239.70 465.80,239.34 466.30,239.72 466.80,239.96 467.30,240.27 467.80,240.09 468.30,239.38 468.80,239.58 469.30,239.88 469.80,239.58 470.30,239.57 470.80,241.09 471.30,240.21 471.80,241.25 472.30,239.46 472.80,240.03 473.30,239.81 473.80,239.90 474.30,240.03 474.80,240.20 475.30,240.03 475.80,241.64 476.30,240.91 476.80,239.97 477.30,240.15 477.80,241.09 478.30,241.00 478.80,240.24 479.30,241.35 479.80,239.76 480.30,240.46 480.80,242.03 481.30,239.06 481.80,240.77 482.30,241.63 482.80,240.88 483.30,240.47 483.80,240.43 484.30,239.64 484.80,240.20 485.30,241.20 485.80,240.80 486.30,241.22 486.80,241.17 487.30,241.51 487.80,240.20 488.30,241.17 488.80,241.18 489.30,241.24 489.80,240.87 490.30,239.99 490.80,241.98 491.30,242.12 491.80,243.22 492.30,242.10 492.80,242.74 493.30,242.01 493.80,241.34 494.30,241.94 494.80,240.79 495.30,241.77 495.80,241.52 496.30,240.87 496.80,242.45 497.30,242.37 497.80,241.92 498.30,242.17 498.80,242.74 499.30,241.51 499.80,240.66 500.30,240.94 500.80,242.08 501.30,241.76 501.80,240.57 502.30,242.52 502.80,241.75 503.30,242.72 503.80,242.39 504.30,241.30 504.80,241.67 505.30,241.09 505.80,241.02 506.30,241.40 506.80,241.95 507.30,242.56 507.80,240.99 508.30,242.09 508.80,241.64 509.30,241.46 509.80,242.39 510.30,241.36 510.80,242.57 511.30,241.37 511.80,240.95 512.30,242.11 512.80,240.54 513.30,240.71 513.80,241.37 514.30,241.47 514.80,241.25 515.30,240.03 515.80,240.44 516.30,241.68 516.80,241.66 517.30,240.55 517.80,241.40 518.30,241.32 518.80,241.85 519.30,240.60 519.80,242.09 520.30,240.83 520.80,242.01 521.30,241.62 521.80,240.23 522.30,240.68 522.80,241.06 523.30,241.53 523.80,239.82 524.30,240.40 524.80,241.14 525.30,240.99 525.80,239.88 526.30,239.94 526.80,240.82 527.30,239.75 527.80,240.57 528.30,240.99 528.80,240.30 529.30,238.36 529.80,240.97 530.30,240.88 530.80,240.99 531.30,240.52 531.80,238.66 532.30,240.73 532.80,239.90 533.30,240.23 533.80,239.37 534.30,239.22 534.80,239.14 535.30,240.33 535.80,239.32 536.30,238.90 536.80,238.06 537.30,239.20 537.80,238.79 538.30,238.81 538.80,239.30 539.30,239.03 539.80,238.43 540.30,238.49 540.80,238.31 541.30,238.66"/>
<polyline fill="none" stroke="#ff8400" stroke-width="3.1" stroke-linejoin="round" points="309.90,289.90 310.40,291.85 310.90,292.41 311.40,291.26 311.90,293.04 312.40,292.93 312.90,291.96 313.40,294.34 313.90,295.77 314.40,294.95 314.90,295.61 315.40,297.72 315.90,296.58 316.40,297.37 316.90,298.55 317.40,299.98 317.90,300.60 318.40,300.20 318.90,300.95 319.40,301.84 319.90,301.97 320.40,302.08 320.90,302.40 321.40,304.46 321.90,304.16 322.40,307.18 322.90,305.60 323.40,304.73 323.90,305.65 324.40,306.20 324.90,306.49 325.40,306.75 325.90,306.95 326.40,306.62 326.90,307.43 327.40,308.85 327.90,306.72 328.40,306.86 328.90,307.88 329.40,308.42 329.90,308.13 330.40,308.54 330.90,307.54 331.40,307.45 331.90,308.25 332.40,308.31 332.90,309.19 333.40,309.12 333.90,306.27 334.40,308.48 334.90,307.21 335.40,305.91 335.90,307.90 336.40,307.27 336.90,306.93 337.40,305.93 337.90,305.94 338.40,306.40 338.90,305.10 339.40,306.07 339.90,306.07 340.40,305.67 340.90,305.87 341.40,305.38 341.90,304.28 342.40,304.20 342.90,305.00 343.40,305.51 343.90,304.60 344.40,303.83 344.90,304.16 345.40,302.23 345.90,302.63 346.40,302.83 346.90,302.74 347.40,302.14 347.90,301.78 348.40,300.57 348.90,300.66 349.40,300.91 349.90,298.69 350.40,298.80 350.90,299.09 351.40,300.24 351.90,299.18 352.40,299.57 352.90,299.02 353.40,297.11 353.90,296.99 354.40,295.54 354.90,296.93 355.40,295.75 355.90,294.51 356.40,293.21 356.90,291.54 357.40,289.77 357.90,288.33 358.40,287.66 358.90,284.44 359.40,282.66 359.90,281.94 360.40,281.30 360.90,278.87 361.40,276.81 361.90,275.96 362.40,273.60 362.90,270.14 363.40,269.17 363.90,266.56 364.40,266.45 364.90,264.56 365.40,263.65 365.90,263.45 366.40,259.60 366.90,258.61 367.40,256.78 367.90,253.27 368.40,253.68 368.90,252.59 369.40,252.44 369.90,250.54 370.40,249.57 370.90,251.40 371.40,252.43 371.90,254.22 372.40,257.22 372.90,260.75 373.40,265.96 373.90,270.92 374.40,272.24 374.90,277.57 375.40,279.60 375.90,282.46 376.40,285.15 376.90,285.45 377.40,288.76 377.90,288.51 378.40,290.64 378.90,291.56 379.40,294.80 379.90,295.74 380.40,295.88 380.90,296.49 381.40,296.35 381.90,298.98 382.40,299.37 382.90,299.61 383.40,299.37 383.90,299.72 384.40,300.43 384.90,302.01 385.40,300.40 385.90,301.57 386.40,303.10 386.90,302.69 387.40,303.64 387.90,302.74 388.40,302.98 388.90,304.03 389.40,303.65 389.90,303.61 390.40,303.12 390.90,302.53 391.40,305.27 391.90,303.90 392.40,303.88 392.90,305.51 393.40,304.33 393.90,304.28 394.40,305.32 394.90,306.15 395.40,306.85 395.90,307.46 396.40,308.23 396.90,307.68 397.40,308.40 397.90,308.26 398.40,308.00 398.90,309.03 399.40,309.13 399.90,310.53 400.40,309.60 400.90,308.63 401.40,309.82 401.90,309.19 402.40,310.80 402.90,308.08 403.40,308.98 403.90,308.99 404.40,309.64 404.90,309.43 405.40,308.21 405.90,307.98 406.40,309.70 406.90,310.77 407.40,310.74 407.90,309.07 408.40,309.60 408.90,308.26 409.40,307.57 409.90,309.65 410.40,309.06 410.90,308.10 411.40,307.96 411.90,308.94 412.40,308.32 412.90,307.63 412.95,307.97 413.40,296.70 413.85,307.32 413.90,307.48 414.40,306.79 414.90,306.13 415.40,307.12 415.90,305.64 416.40,304.85 416.90,307.22 417.40,306.65 417.90,305.95 418.40,305.35 418.90,305.45 419.40,303.91 419.90,304.86 420.40,304.67 420.90,303.72 421.40,303.65 421.90,302.07 422.40,302.42 422.90,300.57 423.15,301.32 423.60,287.85 424.05,301.52 424.40,299.78 424.90,300.26 425.40,300.35 425.90,299.62 426.40,300.65 426.90,298.97 427.40,299.69 427.90,298.73 428.40,297.09 428.90,298.76 429.05,297.73 429.50,267.78 429.95,297.63 430.40,298.62 430.90,299.76 431.40,298.48 431.90,300.28 432.40,302.56 432.90,304.85 433.40,305.73 433.90,306.39 434.40,306.76 434.90,306.86 435.40,306.60 435.90,307.48 436.40,308.33 436.90,308.77 437.40,307.53 437.90,308.87 438.40,306.87 438.90,308.66 439.40,307.13 439.90,308.27 440.40,307.31 440.90,307.35 441.40,307.77 441.90,309.49 442.40,307.85 442.90,309.03 443.40,308.75 443.90,308.99 444.40,309.12 444.90,309.49 445.40,308.08 445.90,309.23 446.40,309.58 446.90,308.91 447.40,309.79 447.90,308.74 447.95,309.63 448.40,304.18 448.85,309.69 448.90,309.21 449.40,309.66 449.90,310.65 450.40,310.99 450.90,309.72 451.40,309.76 451.90,311.21 452.40,308.09 452.90,311.69 453.40,311.75 453.90,309.88 454.40,311.85 454.65,311.24 455.10,306.49 455.55,311.35 455.90,309.24 456.40,310.86 456.90,311.23 457.40,311.17 457.90,311.32 458.40,311.54 458.90,309.54 459.40,311.90 459.90,311.65 460.40,312.30 460.90,312.12 461.40,312.68 461.90,313.07 462.40,314.45 462.90,312.43 463.40,314.67 463.90,313.21 464.40,312.81 464.90,312.49 465.40,314.56 465.90,312.72 466.40,314.87 466.90,314.53 467.40,313.89 467.90,313.93 468.40,314.99 468.90,314.82 469.40,315.40 469.90,314.87 470.40,314.53 470.90,315.49 471.40,314.13 471.90,315.92 472.40,315.34 472.90,314.46 473.40,314.64 473.90,315.31 474.40,314.17 474.90,316.96 475.40,316.72 475.90,315.12 476.40,316.06 476.90,317.69 477.40,316.74 477.90,315.68 478.40,314.85 478.90,315.40 479.40,317.88 479.90,317.26 480.40,316.01 480.90,317.80 481.40,317.00 481.90,316.83 482.40,317.03 482.90,317.15 483.40,318.99 483.90,316.85 484.40,317.34 484.90,318.84 485.40,319.03 485.90,316.98 486.40,319.58 486.90,318.80 487.40,316.67 487.90,319.46 488.40,316.74 488.90,318.58 489.40,317.07 489.90,316.57 490.40,318.81 490.90,318.47 491.40,318.07 491.90,318.33 492.40,318.11 492.90,318.00 493.40,317.34 493.90,318.75 494.40,318.30 494.90,318.10 495.40,317.85 495.90,318.11 496.40,317.10 496.90,318.14 497.40,317.59 497.90,319.53 498.40,317.67 498.90,318.11 499.40,318.53 499.90,319.21 500.40,318.96 500.90,318.61 501.40,320.44 501.90,318.63 502.40,318.94 502.90,320.99 503.40,317.96 503.90,319.55 504.40,319.13 504.90,317.67 505.40,318.27 505.90,319.52 506.40,317.61 506.90,318.69 507.40,319.65 507.90,318.67 508.40,319.11 508.90,318.33 509.40,318.37 509.90,318.38 510.40,318.60 510.90,319.43 511.40,318.96 511.90,320.54 512.40,319.33 512.90,319.08 513.40,320.72 513.90,318.71 514.40,318.10 514.90,318.88 515.40,317.80 515.90,319.12 516.40,319.80 516.90,319.14 517.40,318.22 517.90,318.40 518.40,318.89 518.90,319.43 519.40,318.06 519.90,318.00 520.40,319.22 520.90,318.44 521.40,318.50 521.90,318.57 522.40,317.47 522.90,317.95 523.40,318.93 523.90,317.86 524.40,317.78 524.90,318.16 525.40,318.19 525.90,319.97 526.40,317.09 526.90,317.85 527.40,319.38 527.90,317.66 528.40,317.91 528.90,316.31 529.40,318.30 529.90,318.17 530.40,318.07 530.90,317.17 531.40,317.57 531.90,317.15 532.40,317.86 532.90,317.07 533.40,317.68 533.90,315.83 534.40,316.61 534.90,314.42 535.40,316.62 535.90,317.32 536.40,316.38 536.90,318.49 537.40,315.58 537.90,316.05 538.40,315.46 538.90,315.72 539.40,315.65 539.90,314.70 540.40,315.01 540.90,317.45 541.40,315.41"/>
<rect x="32" y="2.3" width="235" height="320.7" fill="none" stroke="#000" stroke-width="2"/>
<rect x="307" y="2.3" width="235" height="320.7" fill="none" stroke="#000" stroke-width="2"/>
<line x1="49.68" y1="323" x2="49.68" y2="327.0" stroke="#000" stroke-width="2" stroke-linecap="round"/>
<text x="49.68" y="340.6" font-size="14" text-anchor="middle">10</text>
<line x1="71.41" y1="323" x2="71.41" y2="325.3" stroke="#000" stroke-width="2" stroke-linecap="round"/>
<line x1="93.13" y1="323" x2="93.13" y2="327.0" stroke="#000" stroke-width="2" stroke-linecap="round"/>
<text x="93.13" y="340.6" font-size="14" text-anchor="middle">20</text>
<line x1="114.85" y1="323" x2="114.85" y2="325.3" stroke="#000" stroke-width="2" stroke-linecap="round"/>
<line x1="136.58" y1="323" x2="136.58" y2="327.0" stroke="#000" stroke-width="2" stroke-linecap="round"/>
<text x="136.58" y="340.6" font-size="14" text-anchor="middle">30</text>
<line x1="158.31" y1="323" x2="158.31" y2="325.3" stroke="#000" stroke-width="2" stroke-linecap="round"/>
<line x1="180.03" y1="323" x2="180.03" y2="327.0" stroke="#000" stroke-width="2" stroke-linecap="round"/>
<text x="180.03" y="340.6" font-size="14" text-anchor="middle">40</text>
<line x1="201.75" y1="323" x2="201.75" y2="325.3" stroke="#000" stroke-width="2" stroke-linecap="round"/>
<line x1="223.48" y1="323" x2="223.48" y2="327.0" stroke="#000" stroke-width="2" stroke-linecap="round"/>
<text x="223.48" y="340.6" font-size="14" text-anchor="middle">50</text>
<line x1="245.20" y1="323" x2="245.20" y2="325.3" stroke="#000" stroke-width="2" stroke-linecap="round"/>
<line x1="266.93" y1="323" x2="266.93" y2="327.0" stroke="#000" stroke-width="2" stroke-linecap="round"/>
<text x="266.93" y="340.6" font-size="14" text-anchor="middle">60</text>
<line x1="319.70" y1="323" x2="319.70" y2="327.0" stroke="#000" stroke-width="2" stroke-linecap="round"/>
<text x="319.70" y="340.6" font-size="13.4" text-anchor="middle">10</text>
<line x1="335.58" y1="323" x2="335.58" y2="325.3" stroke="#000" stroke-width="2" stroke-linecap="round"/>
<line x1="351.46" y1="323" x2="351.46" y2="327.0" stroke="#000" stroke-width="2" stroke-linecap="round"/>
<text x="351.46" y="340.6" font-size="13.4" text-anchor="middle">20</text>
<line x1="367.34" y1="323" x2="367.34" y2="325.3" stroke="#000" stroke-width="2" stroke-linecap="round"/>
<line x1="383.22" y1="323" x2="383.22" y2="327.0" stroke="#000" stroke-width="2" stroke-linecap="round"/>
<text x="383.22" y="340.6" font-size="13.4" text-anchor="middle">30</text>
<line x1="399.09" y1="323" x2="399.09" y2="325.3" stroke="#000" stroke-width="2" stroke-linecap="round"/>
<line x1="414.97" y1="323" x2="414.97" y2="327.0" stroke="#000" stroke-width="2" stroke-linecap="round"/>
<text x="414.97" y="340.6" font-size="13.4" text-anchor="middle">40</text>
<line x1="430.85" y1="323" x2="430.85" y2="325.3" stroke="#000" stroke-width="2" stroke-linecap="round"/>
<line x1="446.73" y1="323" x2="446.73" y2="327.0" stroke="#000" stroke-width="2" stroke-linecap="round"/>
<text x="446.73" y="340.6" font-size="13.4" text-anchor="middle">50</text>
<line x1="462.61" y1="323" x2="462.61" y2="325.3" stroke="#000" stroke-width="2" stroke-linecap="round"/>
<line x1="478.49" y1="323" x2="478.49" y2="327.0" stroke="#000" stroke-width="2" stroke-linecap="round"/>
<text x="478.49" y="340.6" font-size="13.4" text-anchor="middle">60</text>
<line x1="494.36" y1="323" x2="494.36" y2="325.3" stroke="#000" stroke-width="2" stroke-linecap="round"/>
<line x1="510.24" y1="323" x2="510.24" y2="327.0" stroke="#000" stroke-width="2" stroke-linecap="round"/>
<text x="510.24" y="340.6" font-size="13.4" text-anchor="middle">70</text>
<line x1="526.12" y1="323" x2="526.12" y2="325.3" stroke="#000" stroke-width="2" stroke-linecap="round"/>
<line x1="542.00" y1="323" x2="542.00" y2="327.0" stroke="#000" stroke-width="2" stroke-linecap="round"/>
<text x="542.00" y="340.6" font-size="13.4" text-anchor="middle">80</text>
<text class="b" x="0.6" y="19" font-size="20">(A)</text>
<text class="b" x="274.7" y="19" font-size="20">(B)</text>
<text class="b" x="101.3" y="359.8" font-size="16" textLength="95.7" lengthAdjust="spacingAndGlyphs">2 tetha (deg.)</text>
<text class="b" x="376.5" y="357.5" font-size="16" textLength="96.1" lengthAdjust="spacingAndGlyphs">2 tetha (deg.)</text>
<text class="b" transform="translate(17.3,166.8) rotate(-90)" text-anchor="middle" font-size="15.5">Intensity (a.u.)</text>
<text class="b" transform="translate(291.7,165.1) rotate(-90)" text-anchor="middle" font-size="15.5">Intensity (a.u.)</text>
<text class="b" x="161.8" y="37.6" font-size="12.7">NCNT (1:10)-500</text>
<text class="b" x="171.6" y="101" font-size="12.7">NCNT (1:5)-500</text>
<text class="b" x="168.2" y="166" font-size="12.7">NCNT (1:1)-500</text>
<text class="b" x="185.6" y="237.6" font-size="12.7">Pristine CNT</text>
<text class="b" x="191.4" y="302.1" font-size="12.7">Gelatin-500</text>
<text class="b" x="429.2" y="50.6" font-size="12.7">NCNT (1:10)-800</text>
<text class="b" x="432.2" y="135.4" font-size="12.7">NCNT (1:10)-500</text>
<text class="b" x="452.3" y="224.6" font-size="12.7">Pristine CNT</text>
<text class="b" x="462.5" y="302.7" font-size="12.7">Gelatin-800</text>
</svg>
</body></html>
